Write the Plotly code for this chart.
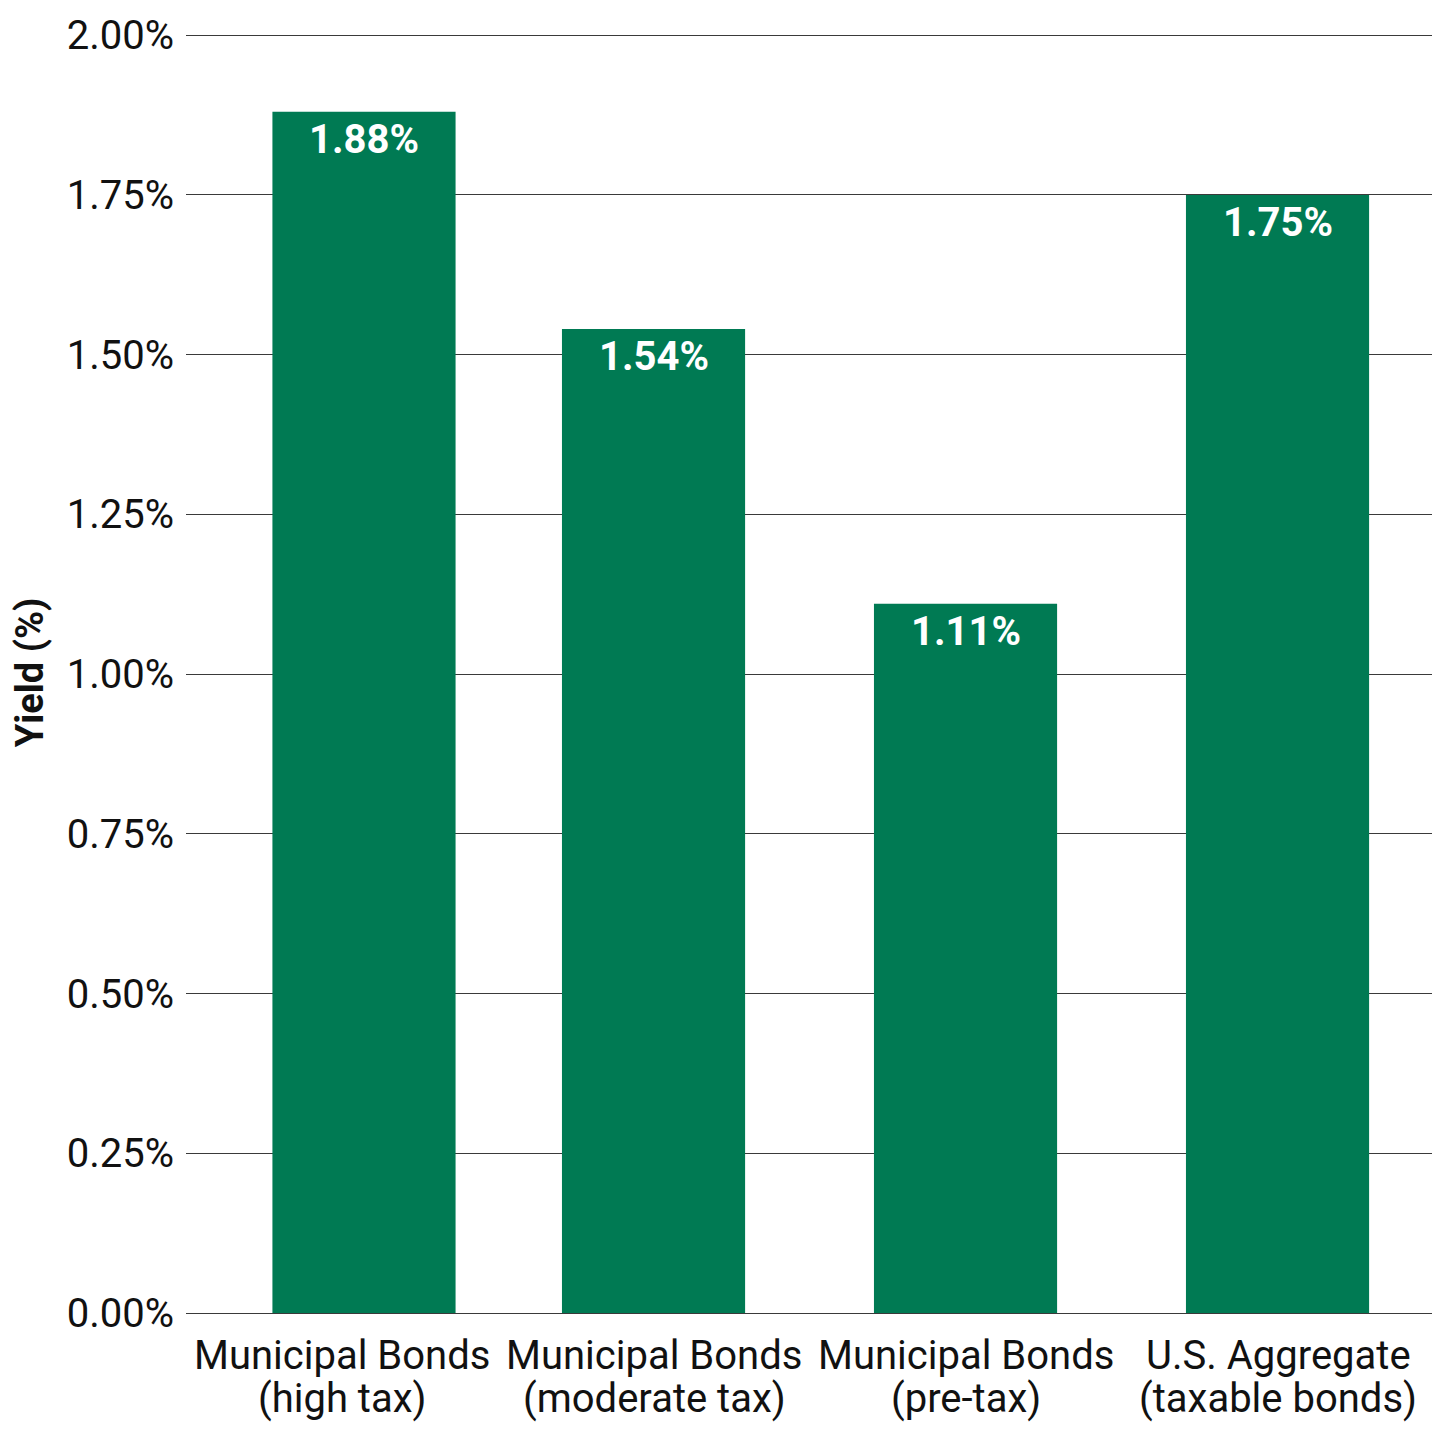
import plotly.graph_objects as go

cat_line1 = ["Municipal Bonds", "Municipal Bonds", "Municipal Bonds", "U.S. Aggregate"]
cat_line2 = ["(high tax)", "(moderate tax)", "(pre-tax)", "(taxable bonds)"]
categories = [a + " " + b for a, b in zip(cat_line1, cat_line2)]
yields = [1.88, 1.54, 1.11, 1.75]
value_labels = ["1.88%", "1.54%", "1.11%", "1.75%"]
y_tick_vals = [0, 0.25, 0.5, 0.75, 1.0, 1.25, 1.5, 1.75, 2.0]
y_tick_text = ["0.00%", "0.25%", "0.50%", "0.75%", "1.00%", "1.25%", "1.50%", "1.75%", "2.00%"]

GREEN = "#007A53"
FONT = "Roboto"
TXT = "#111111"

fig = go.Figure()
fig.add_trace(go.Bar(
    x=categories, y=yields,
    marker=dict(color=GREEN, line=dict(width=0)),
    width=0.587,
    offset=[-0.223, -0.295, -0.295, -0.295],
    hoverinfo="skip",
))

bar_centers_shift = [0.07, 0, 0, 0]
for i, (v, t) in enumerate(zip(yields, value_labels)):
    fig.add_annotation(
        x=i + bar_centers_shift[i], y=v, xref="x", yref="y", text=f"<b>{t}</b>",
        showarrow=False, yanchor="top", yshift=-2,
        font=dict(family=FONT, size=40, color="white"),
    )

# category labels (two lines, tight line spacing)
for i, (l1, l2) in enumerate(zip(cat_line1, cat_line2)):
    fig.add_annotation(x=i, y=0, xref="x", yref="y", text=l1, showarrow=False,
                       yanchor="middle", yshift=-42,
                       font=dict(family=FONT, size=40, color=TXT))
    fig.add_annotation(x=i, y=0, xref="x", yref="y", text=l2, showarrow=False,
                       yanchor="middle", yshift=-85,
                       font=dict(family=FONT, size=40, color=TXT))

fig.update_layout(
    width=1432, height=1432,
    margin=dict(l=178, r=6, t=24, b=127, autoexpand=False),
    paper_bgcolor="white", plot_bgcolor="white",
    font=dict(family=FONT, size=40, color=TXT),
    showlegend=False,
)
fig.update_xaxes(
    type="category", range=[-0.5, 3.5], automargin=False,
    showgrid=False, showline=False, ticks="", showticklabels=False,
)
fig.update_yaxes(
    range=[0, 2.005], tickvals=y_tick_vals, ticktext=y_tick_text, automargin=False,
    showgrid=True, gridcolor="#3a3a3a", gridwidth=1,
    zeroline=True, zerolinecolor="#3a3a3a", zerolinewidth=1,
    showline=False, ticks="outside", ticklen=3, tickcolor="rgba(0,0,0,0)",
    tickfont=dict(family=FONT, size=40, color=TXT),
    title=dict(text="<b>Yield (%)</b>", font=dict(family=FONT, size=38, color=TXT), standoff=20),
)

fig.write_html("out.html")
